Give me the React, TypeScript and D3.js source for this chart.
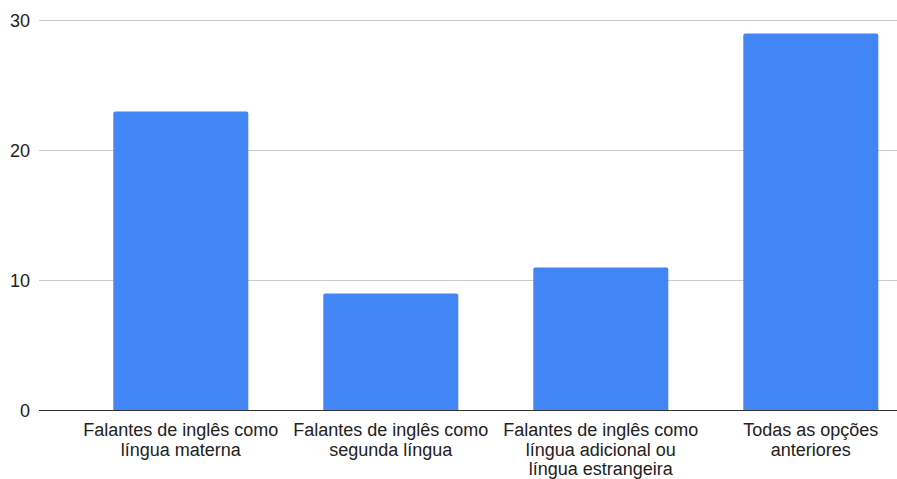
import React from "react";
import * as d3 from "d3";

const categories: string[] = [
  "Falantes de inglês como língua materna",
  "Falantes de inglês como segunda língua",
  "Falantes de inglês como língua adicional ou língua estrangeira",
  "Todas as opções anteriores",
];
const values: number[] = [23, 9, 11, 29];
const yTicks: number[] = [0, 10, 20, 30];

const W = 897;
const H = 479;
const FONT = "'Liberation Sans', Arial, sans-serif";
const FONT_SIZE = 18;

// wrap a label into lines no wider than maxWidth using canvas text metrics
function wrapLabel(text: string, maxWidth: number): string[] {
  const ctx = document.createElement("canvas").getContext("2d");
  if (!ctx) return [text];
  ctx.font = `${FONT_SIZE}px ${FONT}`;
  const words = text.split(" ");
  const lines: string[] = [];
  let cur = "";
  for (const w of words) {
    const next = cur ? cur + " " + w : w;
    if (cur && ctx.measureText(next).width > maxWidth) {
      lines.push(cur);
      cur = w;
    } else {
      cur = next;
    }
  }
  if (cur) lines.push(cur);
  return lines;
}

export default function App() {
  const gridLeft = 39;
  const gridRight = W;
  const y = d3.scaleLinear().domain([0, 30]).range([410.5, 20.5]);
  const x = d3
    .scaleBand<string>()
    .domain(categories)
    .range([75.8, 915.8])
    .paddingInner(75 / 210)
    .paddingOuter(75 / 210 / 2);

  const r = 2;
  const barPath = (cx: number, w: number, top: number, bottom: number) => {
    const p = d3.path();
    p.moveTo(cx, bottom);
    p.lineTo(cx, top + r);
    p.arcTo(cx, top, cx + r, top, r);
    p.lineTo(cx + w - r, top);
    p.arcTo(cx + w, top, cx + w, top + r, r);
    p.lineTo(cx + w, bottom);
    p.closePath();
    return p.toString();
  };

  return (
    <svg
      width={W}
      height={H}
      style={{ position: "absolute", left: 0, top: 0, background: "#fff" }}
      fontFamily={FONT}
    >
      {yTicks.map((t) => (
        <g key={t}>
          {t !== 0 && (
            <line x1={gridLeft} x2={gridRight} y1={y(t)} y2={y(t)} stroke="#cccccc" strokeWidth={1} />
          )}
          <text
            x={30}
            y={y(t)}
            dy="0.35em"
            textAnchor="end"
            fontSize={FONT_SIZE}
            fill="#222"
          >
            {t}
          </text>
        </g>
      ))}
      {categories.map((c, i) => {
        const bx = x(c)!;
        const bw = x.bandwidth();
        return (
          <path key={c} d={barPath(bx, bw, y(values[i]), y(0))} fill="#4285f4" />
        );
      })}
      <line x1={gridLeft} x2={gridRight} y1={y(0)} y2={y(0)} stroke="#333" strokeWidth={1.2} />
      {categories.map((c) => {
        const cx = x(c)! + x.bandwidth() / 2;
        const lines = wrapLabel(c, 200);
        return (
          <text key={c} x={cx} y={436} textAnchor="middle" fontSize={FONT_SIZE} fill="#222">
            {lines.map((l, j) => (
              <tspan key={j} x={cx} y={436 + j * 19.5}>
                {l}
              </tspan>
            ))}
          </text>
        );
      })}
    </svg>
  );
}
